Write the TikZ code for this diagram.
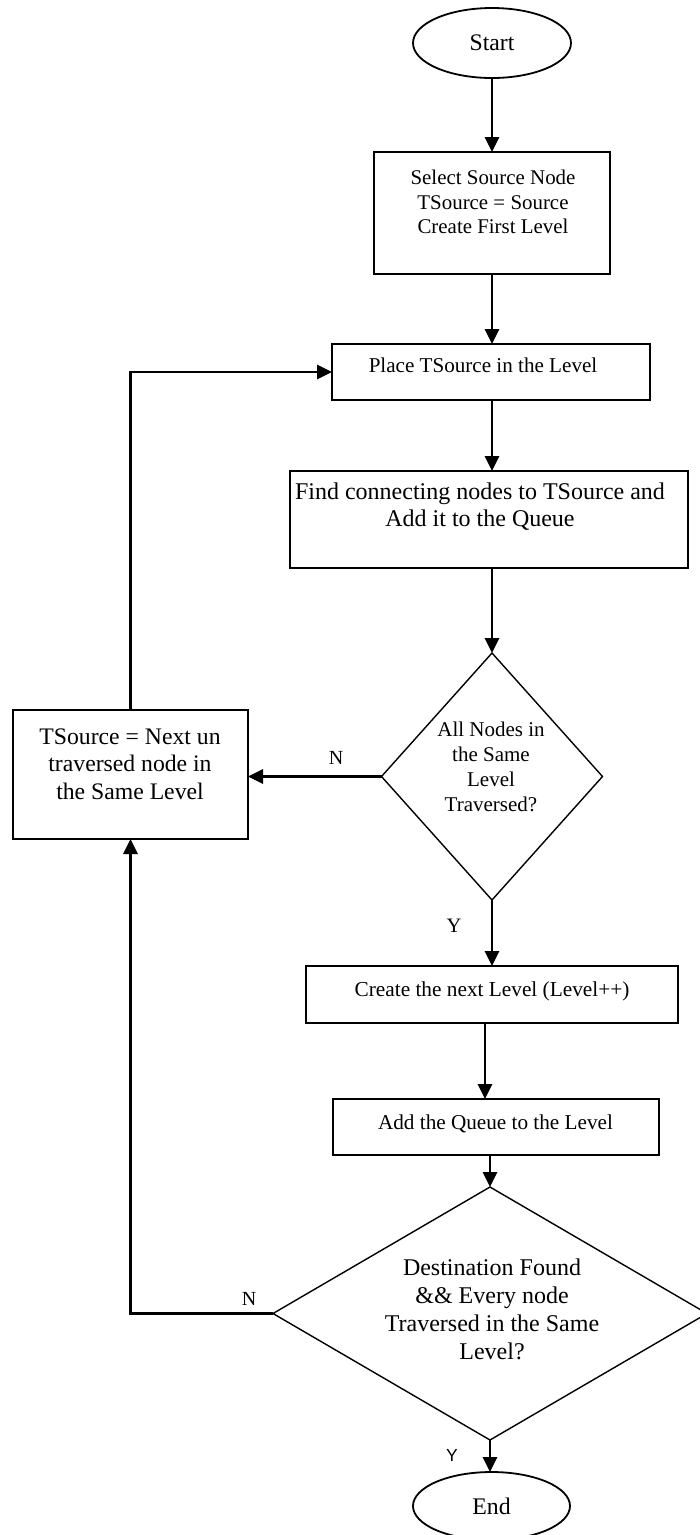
\documentclass[tikz,border=0pt]{standalone}
\usepackage{fontspec}
\setmainfont{Liberation Serif}
\newfontfamily\labelsans{Liberation Sans}
\usetikzlibrary{shapes.geometric,arrows.meta}
\begin{document}
\begin{tikzpicture}[x=1pt,y=-1pt,
  box/.style={draw,line width=1.8pt,inner sep=0pt,outer sep=0pt},
  term/.style={draw,ellipse,line width=1.8pt,inner sep=0pt,outer sep=0pt},
  decide/.style={draw,diamond,line width=1.4pt,inner sep=0pt,outer sep=0pt},
  txt/.style={align=center,inner sep=0pt},
  flow/.style={line width=2.8pt,line join=miter,-{Triangle[length=15pt,width=14pt]}},
  tag/.style={inner sep=0pt,font=\fontsize{20}{24}\selectfont}
]
\useasboundingbox (0,0) rectangle (700,1535);
\coordinate (axis) at (492,0);

% terminals
\node[term,minimum width=158pt,minimum height=70pt,font=\fontsize{23.7}{28}\selectfont] (start) at (492,43) {Start};
\node[term,minimum width=157pt,minimum height=68pt,font=\fontsize{23.8}{28}\selectfont] (end) at (491.5,1506) {End};

% process boxes
\node[box,minimum width=236pt,minimum height=122pt] (select) at (492,213) {};
\node[txt,font=\fontsize{20.9}{24.5}\selectfont] (selectT) at (493,202) {Select Source Node\\TSource = Source\\Create First Level};

\node[box,minimum width=318pt,minimum height=56pt] (place) at (491,372) {};
\node[txt,font=\fontsize{21.1}{25}\selectfont] (placeT) at (483,365) {Place TSource in the Level};

\node[box,minimum width=398pt,minimum height=97pt] (find) at (489,519.5) {};
\node[txt,font=\fontsize{24}{27}\selectfont] (findT) at (480,507) {Find connecting nodes to TSource and\\Add it to the Queue};

\node[box,minimum width=235pt,minimum height=129pt] (tsrc) at (130.5,774.5) {};
\node[txt,font=\fontsize{23.7}{27.5}\selectfont] (tsrcT) at (130,764) {TSource = Next un\\traversed node in\\the Same Level};

\node[box,minimum width=372pt,minimum height=57pt] (create) at (492,994.5) {};
\node[txt,font=\fontsize{21.3}{25}\selectfont] (createT) at (492,991) {Create the next Level (Level++)};

\node[box,minimum width=326pt,minimum height=56pt] (add) at (496,1127) {};
\node[txt,font=\fontsize{21.2}{25}\selectfont] (addT) at (495.5,1124) {Add the Queue to the Level};

% decisions
\node[decide,minimum width=221pt,minimum height=247pt] (d1) at (492,776.5) {};
\node[txt,font=\fontsize{21}{25}\selectfont] (d1T) at (491,767) {All Nodes in\\the Same\\Level\\Traversed?};

\node[decide,minimum width=434pt,minimum height=253pt] (d2) at (490,1313.5) {};
\node[txt,font=\fontsize{24}{28}\selectfont] (d2T) at (492,1309) {Destination Found\\\&\& Every node\\Traversed in the Same\\Level?};

% connectors
\draw[flow] (start) -- (select);
\draw[flow] (select.south) -- (axis |- place.north);
\draw[flow] (axis |- place.south) -- (axis |- find.north);
\draw[flow] (axis |- find.south) -- (d1.north);
\draw[flow] (d1.west) -- (d1.west -| tsrc.east);
\draw[flow] (tsrc.north) |- (place.west);
\draw[flow] (d1.south) -- (d1.south |- create.north);
\draw[flow] ([xshift=-7pt]create.south) -- ([xshift=-7pt]create.south |- add.north);
\draw[flow] (add.south -| d2.north) -- (d2.north);
\draw[flow] (d2.west) -| (tsrc.south);
\draw[flow] (d2.south) -- (d2.south |- end.north);

% branch labels
\node[tag] (n1) at (336,758) {N};
\node[tag,font=\fontsize{20.5}{24}\selectfont] (y1) at (454,926) {Y};
\node[tag] (n2) at (249,1299) {N};
\node[tag,font=\labelsans\fontsize{17.5}{21}\selectfont] (y2) at (452,1455) {Y};
\end{tikzpicture}
\end{document}
